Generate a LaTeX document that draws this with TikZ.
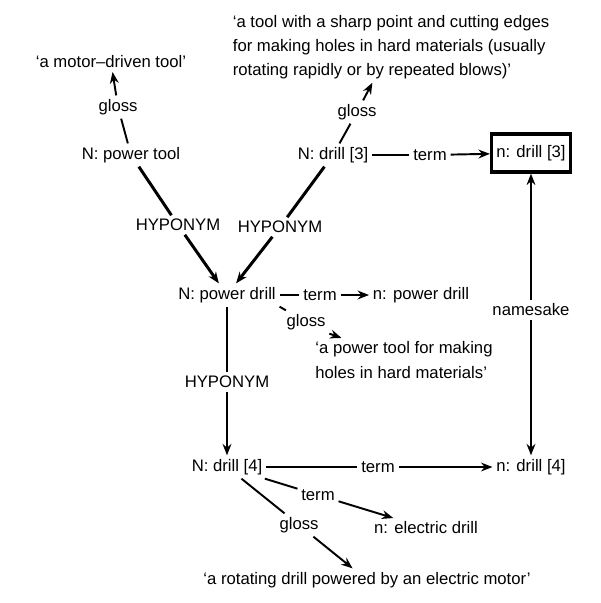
\documentclass[tikz,border=0pt]{standalone}
\usepackage{fontspec}
\setmainfont{Liberation Sans}
\usetikzlibrary{arrows.meta}

\begin{document}
\begin{tikzpicture}[x=0.02cm, y=-0.02cm,
  entry/.style={font=\fontsize{9.5}{13.7}\selectfont, inner sep=2pt},
  glosstext/.style={entry, align=left},
  headbox/.style={entry, draw, line width=1.8pt, minimum width=1.58cm, minimum height=0.76cm},
  link/.style={line width=1.1pt},
  hyplink/.style={line width=1.7pt},
  arr/.style={-{Stealth[length=6.5pt, width=5pt]}},
]
\useasboundingbox (0,0) rectangle (600,603);

% obere Reihe
\node[entry] (motorgloss) at (111,62) {`a motor--driven tool'};
\node[entry] (glossA) at (118,107) {gloss};
\node[entry] (powertool) at (131,155) {N: power tool};
\node[glosstext, anchor=west] (drillgloss) at (229,47) {`a tool with a sharp point and cutting edges\\for making holes in hard materials (usually\\rotating rapidly or by repeated blows)'};
\node[entry] (glossB) at (357,112) {gloss};
\node[entry] (drillthree) at (333,155) {N: drill [3]};
\node[entry] (termA) at (430,155) {term};
\node[headbox] (ndrillthree) at (531,153) {n: drill [3]};

% Hyponymie
\node[entry] (hypA) at (178,225) {HYPONYM};
\node[entry] (hypB) at (280,227) {HYPONYM};

% mittlere Reihe
\node[entry] (powerdrill) at (227,295) {N: power drill};
\node[entry] (termB) at (320,295) {term};
\node[entry] (npowerdrill) at (421,295) {n: power drill};
\node[entry] (glossC) at (306,322) {gloss};
\node[glosstext] (powerdrillgloss) at (404,360) {`a power tool for making\\holes in hard materials'};
\node[entry] (hypC) at (227,382) {HYPONYM};
\node[entry] (namesake) at (531,310) {namesake};

% untere Reihe
\node[entry] (drillfour) at (227,467) {N: drill [4]};
\node[entry] (termC) at (378,467) {term};
\node[entry] (ndrillfour) at (531,467) {n: drill [4]};
\node[entry] (termD) at (318,495) {term};
\node[entry] (nelectric) at (426,528) {n: electric drill};
\node[entry] (glossD) at (299,525) {gloss};
\node[entry] (drillfourgloss) at (367,580) {`a rotating drill powered by an electric motor'};

% gloss-Kanten
\draw[link] (powertool) -- (glossA);
\draw[link, arr] (glossA) -- (motorgloss);
\draw[link] (drillthree) -- (glossB);
\draw[link, arr] (glossB) -- (drillgloss);
\draw[link] (powerdrill.south east) -- (glossC);
\draw[link, arr] (glossC.south east) -- ([xshift=0.6cm]powerdrillgloss.north west);
\draw[link] (drillfour) -- (glossD);
\draw[link, arr] (glossD) -- (drillfourgloss);

% term-Kanten
\draw[link] (drillthree) -- (termA);
\draw[link, arr] (termA) -- (ndrillthree);
\draw[link] (powerdrill) -- (termB);
\draw[link, arr] (termB) -- (npowerdrill);
\draw[link] (drillfour) -- (termC);
\draw[link, arr] (termC) -- (ndrillfour);
\draw[link] (drillfour) -- (termD);
\draw[link, arr] (termD) -- (nelectric);

% HYPONYM-Kanten
\draw[hyplink] (powertool) -- (hypA);
\draw[hyplink, arr] (hypA) -- (powerdrill);
\draw[hyplink] (drillthree) -- (hypB);
\draw[hyplink, arr] (hypB) -- (powerdrill);
\draw[hyplink] (powerdrill) -- (hypC);
\draw[hyplink, arr] (hypC) -- (drillfour);

% namesake
\draw[link, arr] (namesake) -- (ndrillthree);
\draw[link, arr] (namesake) -- (ndrillfour);

\end{tikzpicture}
\end{document}
